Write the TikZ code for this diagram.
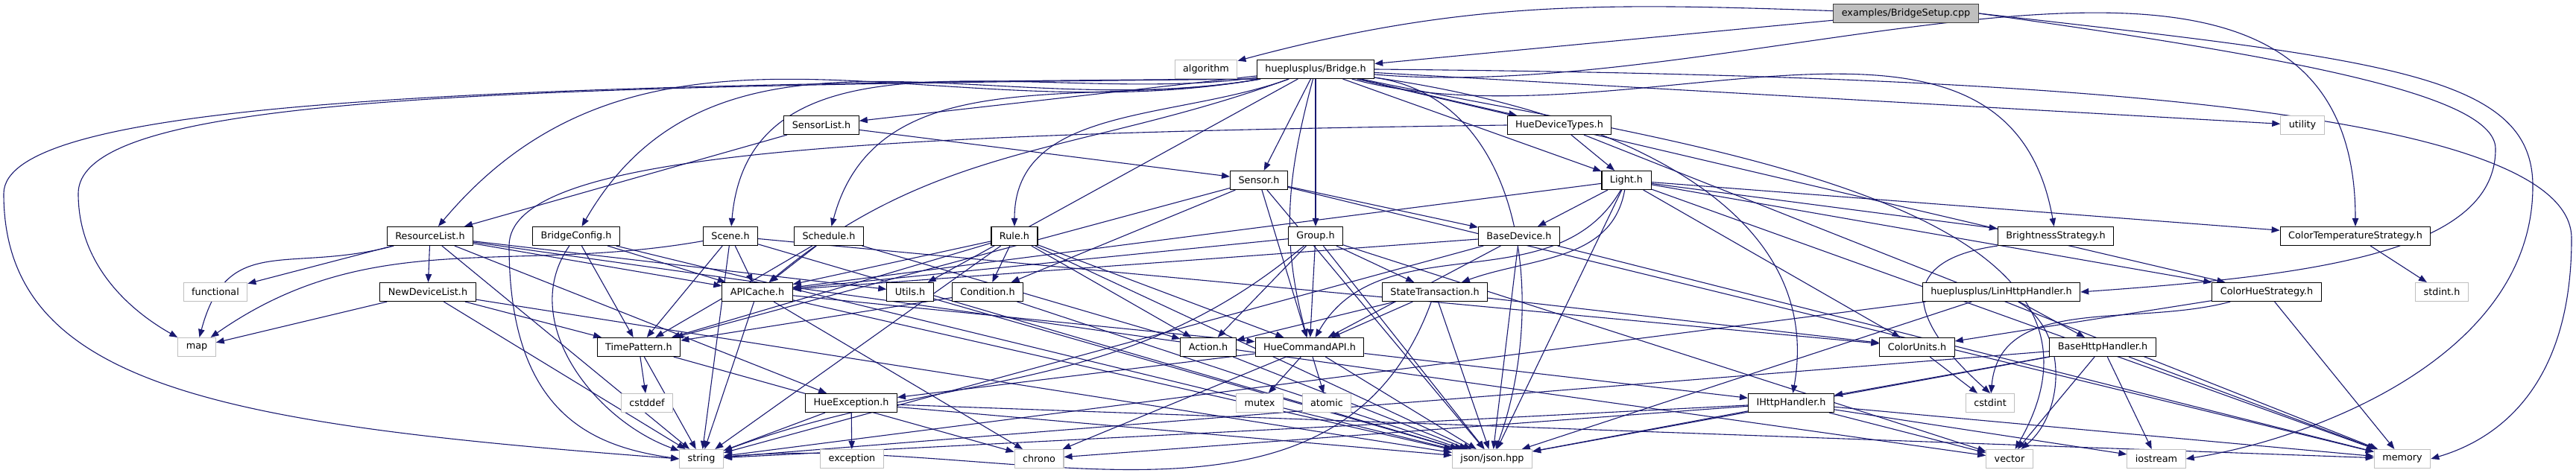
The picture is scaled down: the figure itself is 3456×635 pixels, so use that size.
\documentclass[tikz,border=0pt]{standalone}
\usepackage{fontspec}
\setmainfont{DejaVu Sans}
\usetikzlibrary{arrows.meta}
\definecolor{edgeBlue}{HTML}{191970}
\definecolor{extGrey}{HTML}{BFBFBF}
\definecolor{hdrLine}{HTML}{404040}
\pgfdeclarelayer{edges}
\pgfsetlayers{edges,main}

\begin{document}
\begin{tikzpicture}[x=0.5pt,y=-0.5pt,font=\fontsize{6.4pt}{7.6pt}\selectfont,
      hdr/.style={draw=black,fill=white,line width=0.55pt,minimum height=12.5pt,inner xsep=5.5pt,inner ysep=0pt},
      sys/.style={hdr,draw=extGrey},
      src/.style={hdr,draw=hdrLine,fill=extGrey},
      dep/.style={-{Triangle[length=5.5pt,width=4.2pt]},edgeBlue,line width=0.55pt}]
  \useasboundingbox (0,0) rectangle (3456,635);

  % rows of the include graph
  \node[src] (root) at (2557,18) {examples/BridgeSetup.cpp};
  \node[sys] (alg) at (1618,93) {algorithm};
  \node[hdr] (bridge) at (1765,93) {hueplusplus/Bridge.h};
  \node[hdr] (senslist) at (1102,168) {SensorList.h};
  \node[hdr] (devtypes) at (2092,168) {HueDeviceTypes.h};
  \node[sys] (utility) at (3089,168) {utility};
  \node[hdr] (sensor) at (1689,242) {Sensor.h};
  \node[hdr] (light) at (2182,242) {Light.h};
  \node[hdr] (reslist) at (577,317) {ResourceList.h};
  \node[hdr] (bcfg) at (773,317) {BridgeConfig.h};
  \node[hdr] (scene) at (980,317) {Scene.h};
  \node[hdr] (sched) at (1112,317) {Schedule.h};
  \node[hdr] (rule) at (1361,317) {Rule.h};
  \node[hdr] (group) at (1765,317) {Group.h};
  \node[hdr] (basedev) at (2038,317) {BaseDevice.h};
  \node[hdr] (bright) at (2758,317) {BrightnessStrategy.h};
  \node[hdr] (colortemp) at (3160,317) {ColorTemperatureStrategy.h};
  \node[sys] (functional) at (289,392) {functional};
  \node[hdr] (newdev) at (574,392) {NewDeviceList.h};
  \node[hdr] (apicache) at (1016,392) {APICache.h};
  \node[hdr] (utils) at (1221,392) {Utils.h};
  \node[hdr] (condition) at (1325,392) {Condition.h};
  \node[hdr] (statetx) at (1925,392) {StateTransaction.h};
  \node[hdr] (linhttp) at (2685,392) {hueplusplus/LinHttpHandler.h};
  \node[hdr] (colorhue) at (3041,392) {ColorHueStrategy.h};
  \node[sys] (stdinth) at (3276,392) {stdint.h};
  \node[sys] (map) at (264,466) {map};
  \node[hdr] (timepat) at (857,466) {TimePattern.h};
  \node[hdr] (action) at (1621,466) {Action.h};
  \node[hdr] (cmdapi) at (1757,466) {HueCommandAPI.h};
  \node[hdr] (colorunits) at (2572,466) {ColorUnits.h};
  \node[hdr] (basehttp) at (2821,466) {BaseHttpHandler.h};
  \node[sys] (cstddef) at (868,541) {cstddef};
  \node[hdr] (hueexc) at (1142,541) {HueException.h};
  \node[sys] (mutex) at (1690,541) {mutex};
  \node[sys] (atomic) at (1780,541) {atomic};
  \node[hdr] (ihttp) at (2403,541) {IHttpHandler.h};
  \node[sys] (cstdint) at (2670,541) {cstdint};
  \node[sys] (string) at (941,616) {string};
  \node[sys] (exception) at (1143,616) {exception};
  \node[sys] (chrono) at (1394,616) {chrono};
  \node[sys] (json) at (2002,616) {json/json.hpp};
  \node[sys] (vector) at (2696,616) {vector};
  \node[sys] (iostream) at (2893,616) {iostream};
  \node[sys] (memory) at (3223,616) {memory};

  \begin{pgfonlayer}{edges}
  % straight includes
  \foreach \a/\b in {root/bridge,
      bridge/senslist,bridge/sensor,bridge/group,bridge/devtypes,bridge/light,bridge/utility,
      bridge/colorhue,bridge/utils,
      senslist/reslist,senslist/sensor,
      devtypes/light,devtypes/memory,
      sensor/basedev,sensor/condition,sensor/cmdapi,sensor/timepat,sensor/json,sensor/memory,
      light/apicache,light/basedev,light/bright,light/colorhue,light/colortemp,light/colorunits,
      light/json,light/memory,
      reslist/functional,reslist/newdev,reslist/apicache,reslist/utils,reslist/hueexc,
      reslist/string,reslist/vector,
      bcfg/apicache,bcfg/timepat,bcfg/json,
      scene/apicache,scene/timepat,scene/string,scene/colorunits,scene/json,
      sched/apicache,sched/timepat,sched/action,
      rule/apicache,rule/action,rule/condition,rule/cmdapi,rule/timepat,rule/string,rule/json,
      group/apicache,group/action,group/cmdapi,group/statetx,group/vector,group/json,
      basedev/apicache,basedev/cmdapi,basedev/json,basedev/memory,basedev/string,
      newdev/map,newdev/string,newdev/timepat,newdev/json,
      apicache/chrono,apicache/string,apicache/cmdapi,apicache/json,
      utils/json,
      condition/timepat,condition/json,
      statetx/action,statetx/cmdapi,statetx/colorunits,statetx/json,
      linhttp/basehttp,linhttp/string,linhttp/json,
      colorhue/colorunits,colorhue/memory,
      colortemp/stdinth,
      timepat/cstddef,timepat/string,timepat/chrono,
      action/json,
      cmdapi/mutex,cmdapi/atomic,cmdapi/chrono,cmdapi/hueexc,cmdapi/ihttp,cmdapi/json,
      colorunits/cstdint,
      basehttp/ihttp,basehttp/string,basehttp/vector,basehttp/iostream,basehttp/memory,basehttp/json,
      ihttp/string,ihttp/chrono,ihttp/vector,ihttp/iostream,ihttp/memory,ihttp/json,
      hueexc/exception,hueexc/string,hueexc/json,hueexc/memory}
    \draw[dep] (\a) -- (\b);

  % bent includes
  \draw[dep] (root) to[out=178,in=15] (alg);
  \draw[dep] (bridge) to[out=190,in=50] (reslist);
  \draw[dep] (bridge) to[out=190,in=60] (bcfg);
  \draw[dep] (bridge) to[out=188,in=85] (scene);
  \draw[dep] (bridge) to[out=190,in=75] (sched);
  \draw[dep] (bridge) to[out=200,in=90] (rule);
  \draw[dep] (bridge) to[out=200,in=40] (apicache);
  \draw[dep] (bridge) to[out=255,in=105] (cmdapi);
  \draw[dep] (bridge) to[out=-5,in=90] (colortemp);
  \draw[dep] (bridge) to[out=-15,in=100] (bright);
  \draw[dep] (bridge) to[out=-8,in=80] (ihttp);
  \draw[dep] (bridge) to[out=-8,in=70] (json);
  \draw[dep] (bridge) to[out=-12,in=60] (vector);
  \draw[dep] (light) to[out=240,in=60] (cmdapi);
  \draw[dep] (light) to[out=260,in=20] (statetx);
  \draw[dep] (bcfg) to[out=235,in=160] (string);
  \draw[dep] (scene) to[out=190,in=35] (map);
  \draw[dep] (reslist) to[out=195,in=75,looseness=1.3] (map);
  \draw[dep] (group) to[out=220,in=20] (string);
  \draw[dep] (statetx) to[out=250,in=5] (string);
  \draw[dep] (colorhue) to[out=195,in=85] (cstdint);
  \draw[dep] (linhttp) to[out=-30,in=40] (vector);
  \draw[dep] (bright.south west) .. controls (2540,350) and (2560,430) .. (cstdint.north);

  % long routes round the outside
  \draw[dep] (bridge.south west) .. controls (600,112) and (5,140) .. (5,260)
    .. controls (5,520) and (300,570) .. (string.west);
  \draw[dep] (bridge.south west) .. controls (650,116) and (105,130) .. (105,260)
    .. controls (105,360) and (180,420) .. (map.north west);
  \draw[dep] (bridge.east) .. controls (2600,100) and (3450,130) .. (3450,320)
    .. controls (3450,520) and (3350,590) .. (memory.east);
  \draw[dep] (root.east) .. controls (3200,80) and (3398,100) .. (3398,250)
    .. controls (3398,480) and (3100,590) .. (iostream.east);
  \draw[dep] (root.east) .. controls (3100,80) and (3348,130) .. (3348,200)
    .. controls (3348,340) and (3100,370) .. (linhttp.east);
  \draw[dep] (devtypes.west) .. controls (1100,180) and (683,210) .. (683,330)
    .. controls (683,560) and (800,600) .. (string.west);
  \end{pgfonlayer}
\end{tikzpicture}
\end{document}
